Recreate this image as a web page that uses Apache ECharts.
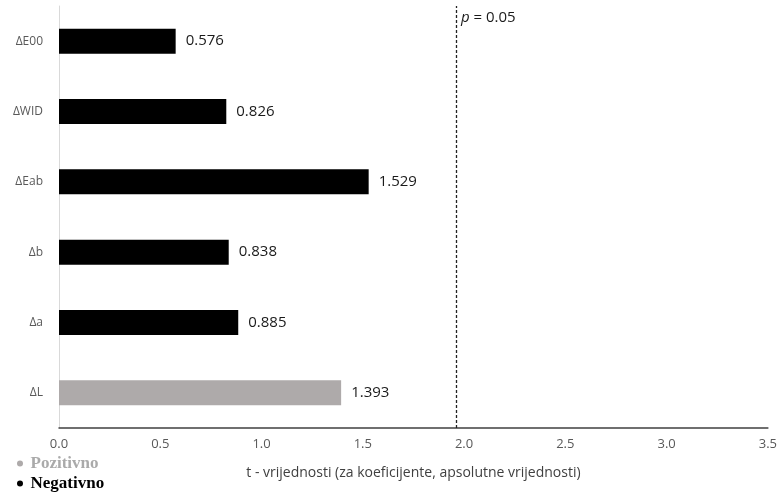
<!DOCTYPE html>
<html><head><meta charset="utf-8">
<script src="https://cdn.jsdelivr.net/npm/echarts@6/dist/echarts.min.js"></script>
<style>html,body{margin:0;padding:0;background:#fff}#c{width:780px;height:494px}</style>
</head><body><div id="c"></div>
<script>
const categories = ['ΔL', 'Δa', 'Δb', 'ΔEab', 'ΔWID', 'ΔE00'];
const tValues = [1.393, 0.885, 0.838, 1.529, 0.826, 0.576];
const signs = ['Pozitivno', 'Negativno', 'Negativno', 'Negativno', 'Negativno', 'Negativno'];
const seriesNames = ['Pozitivno', 'Negativno'];
const seriesColors = ['#aeaaaa', '#000000'];
const legendTextColors = ['#aaaaaa', '#000000'];
const xTicks = { min: 0, max: 3.5, interval: 0.5 };
const critical = 1.96;
const xName = 't - vrijednosti (za koeficijente, apsolutne vrijednosti)';

const chart = echarts.init(document.getElementById('c'));
const series = seriesNames.map((n, si) => ({
  name: n, type: 'bar', stack: 'all', barWidth: 25,
  itemStyle: { color: seriesColors[si] },
  data: tValues.map((v, i) => signs[i] === n ? v : null),
  label: { show: true, position: 'right', distance: 10, color: '#1a1a1a',
    fontFamily: 'Open Sans', fontSize: 15,
    formatter: p => p.value == null ? '' : p.value.toFixed(3) },
  markLine: si === 1 ? {
    silent: true, symbol: 'none',
    lineStyle: { color: '#222', type: [3, 2], width: 1.3 },
    label: { show: false },
    data: [{ xAxis: critical }]
  } : undefined
}));

const legends = seriesNames.map((n, i) => ({
  orient: 'vertical', left: 17, top: 455 + i * 20, padding: 0,
  icon: 'circle', itemWidth: 7, itemHeight: 6,
  textStyle: { fontFamily: 'Liberation Serif', fontWeight: 'bold', fontSize: 17,
    color: legendTextColors[i], padding: [0, 0, 0, 2] },
  data: [n]
}));

chart.setOption({
  animation: false,
  grid: { left: 59, right: 10, top: 6, bottom: 66 },
  xAxis: {
    type: 'value', min: xTicks.min, max: xTicks.max, interval: xTicks.interval,
    axisLine: { show: true, lineStyle: { color: '#404040', width: 1.5 } },
    axisTick: { show: false }, splitLine: { show: false },
    axisLabel: { color: '#595959', fontFamily: 'Open Sans', fontSize: 13, margin: 10,
      formatter: v => v.toFixed(1) },
    name: xName, nameLocation: 'middle', nameGap: 38,
    nameTextStyle: { color: '#404040', fontFamily: 'Open Sans', fontSize: 14 }
  },
  yAxis: {
    type: 'category', data: categories,
    axisLine: { show: true, lineStyle: { color: '#d9d9d9', width: 1 } },
    axisTick: { show: false },
    axisLabel: { color: '#595959', fontFamily: 'Open Sans', fontSize: 12, margin: 16 }
  },
  legend: legends,
  series: series
});

const px = chart.convertToPixel({ xAxisIndex: 0 }, critical);
chart.setOption({
  graphic: [{
    type: 'text', left: px + 5, top: 10,
    style: {
      text: '{i|p} = 0.05',
      rich: { i: { fontStyle: 'italic', fontFamily: 'Open Sans', fontSize: 15, fill: '#1a1a1a' } },
      font: '15px "Open Sans"', fill: '#1a1a1a'
    }
  }]
});
</script></body></html>
